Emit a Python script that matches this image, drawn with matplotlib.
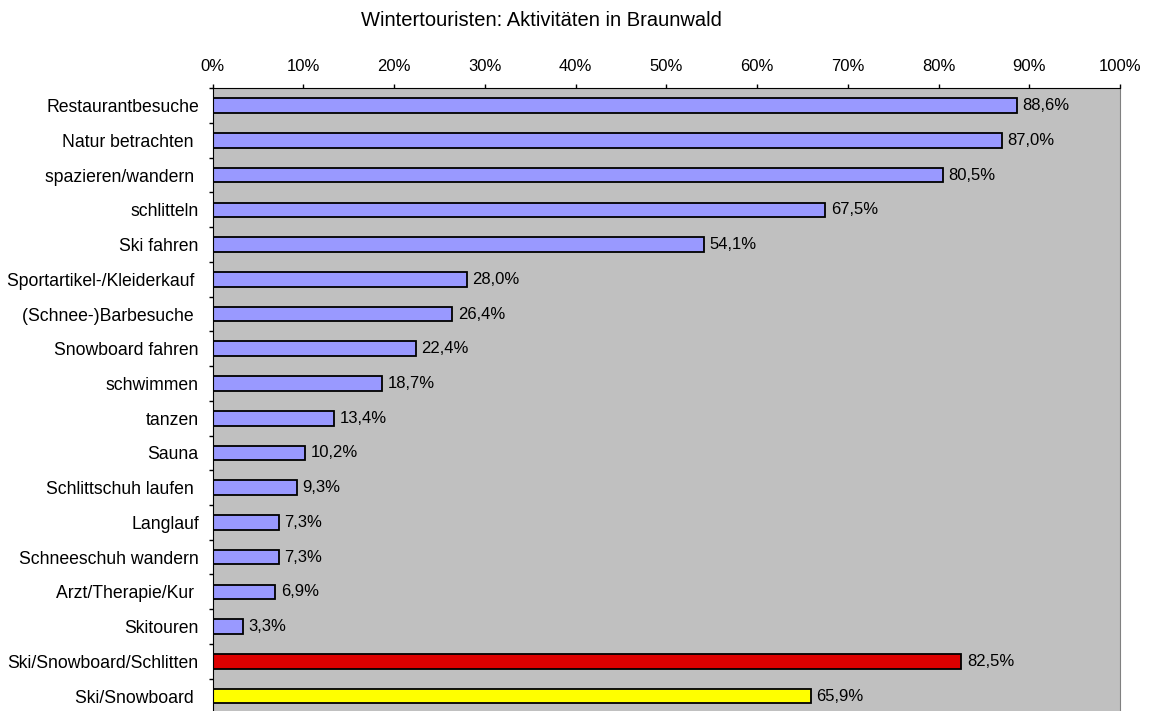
import matplotlib.pyplot as plt
import numpy as np

plt.rcParams['font.family'] = ['Liberation Sans', 'DejaVu Sans']

# Data
activities = ['Restaurantbesuche', 'Natur betrachten ', 'spazieren/wandern ', 'schlitteln',
              'Ski fahren', 'Sportartikel-/Kleiderkauf ', '(Schnee-)Barbesuche ',
              'Snowboard fahren', 'schwimmen', 'tanzen', 'Sauna', 'Schlittschuh laufen ',
              'Langlauf', 'Schneeschuh wandern', 'Arzt/Therapie/Kur ', 'Skitouren',
              'Ski/Snowboard/Schlitten', 'Ski/Snowboard ']
shares = [88.6, 87.0, 80.5, 67.5, 54.1, 28.0, 26.4, 22.4, 18.7, 13.4, 10.2, 9.3,
          7.3, 7.3, 6.9, 3.3, 82.5, 65.9]
bar_colors = ['#9999FF'] * 16 + ['#DD0000', '#FFFF00']
xticks = [0, 10, 20, 30, 40, 50, 60, 70, 80, 90, 100]

fig = plt.figure(figsize=(11.49, 7.11), dpi=100)
ax = fig.add_axes([212.7 / 1149, -2.4 / 711, (1120 - 212.7) / 1149, (713.4 - 88.3) / 711])
ax.set_facecolor('#C0C0C0')

y = np.arange(len(activities))
ax.barh(y, shares, height=0.42, color=bar_colors, edgecolor='black', linewidth=1.3)

for yi, v in zip(y, shares):
    ax.annotate(f'{v:.1f}%'.replace('.', ','), (v, yi), xytext=(4, 0),
                textcoords='offset points', ha='left', va='center', fontsize=12)

ax.set_xlim(0, 100)
ax.set_ylim(len(activities) - 0.5, -0.5)

ax.xaxis.tick_top()
ax.set_xticks(xticks)
ax.set_xticklabels([f'{t}%' for t in xticks])
ax.tick_params(axis='x', direction='out', length=3, width=1, pad=7, labelsize=12)

ax.set_yticks(y)
ax.set_yticklabels(activities)
ax.set_yticks(np.arange(-0.5, len(activities), 1), minor=True)
ax.tick_params(axis='y', which='major', length=0, pad=10, labelsize=12.7)
ax.tick_params(axis='y', which='minor', direction='out', length=3, width=1)

ax.spines['left'].set_color('black')
ax.spines['top'].set_color('black')
ax.spines['right'].set_color('#808080')
ax.spines['bottom'].set_visible(False)

fig.text(541 / 1149, 1 - 26 / 711, 'Wintertouristen: Aktivitäten in Braunwald',
         ha='center', va='baseline', fontsize=14.5)

fig.savefig('out.png', dpi=100)
